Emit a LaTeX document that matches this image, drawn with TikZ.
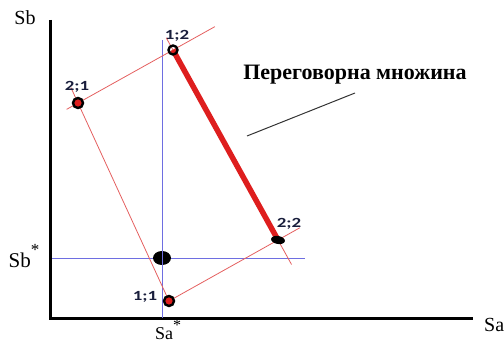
\documentclass[tikz,border=0pt]{standalone}
\usetikzlibrary{shapes.geometric}
\usepackage{fontspec}
\setmainfont{Liberation Serif}
\newfontfamily\lblfont{Carlito}
\definecolor{thinred}{RGB}{228,95,95}
\definecolor{thickred}{RGB}{222,30,30}
\definecolor{axblue}{RGB}{110,110,225}
\definecolor{navy}{RGB}{25,30,60}
\begin{document}
\begin{tikzpicture}[x=1pt,y=-1pt,
  axisline/.style={line width=3pt,black},
  guide/.style={line width=0.9pt,axblue},
  thinline/.style={line width=0.8pt,thinred},
  bargain/.style={line width=5.5pt,thickred},
  ptmark/.style={circle,draw=black,line width=2.4pt,fill=thickred,inner sep=0pt,minimum size=10pt},
  ptlabel/.style={font=\lblfont\bfseries\fontsize{14}{15}\selectfont,text=navy,inner sep=0pt},
  axlabel/.style={font=\fontsize{20}{22}\selectfont,inner sep=0pt}]
\useasboundingbox (0,0) rectangle (504,342);
% axes
\coordinate (O) at (50,318);
\coordinate (ytop) at (50,20);
\coordinate (xend) at (473,318);
\draw[axisline] (ytop) -- (O) -- (xend);
\node[axlabel] (Sb) at (25,18) {Sb};
\node[axlabel,anchor=west] (Sa) at (484,325) {Sa};
\node[axlabel,font=\fontsize{21}{22}\selectfont] (Sbs) at (24,256) {Sb\raisebox{1.2ex}{\fontsize{17}{18}\selectfont*}};
\node[axlabel,font=\fontsize{18}{20}\selectfont,anchor=south] (Sas) at (168,340) {Sa\raisebox{1.1ex}{\fontsize{16}{17}\selectfont*}};
% guide lines
\coordinate (vtop) at (162,40);
\coordinate (vbot) at (162,318);
\coordinate (hl) at (52,258);
\coordinate (hr) at (305,258);
\draw[guide] (vtop) -- (vbot);
\draw[guide] (hl) -- (hr);
% points
\coordinate (p12) at (173,50);
\coordinate (p21) at (78,103);
\coordinate (p22) at (278,240);
\coordinate (p11) at (169,301);
% thin red lines
\draw[thinline,shorten <=-13pt,shorten >=-48pt] (p21) -- (p12);
\draw[thinline,shorten <=-17pt] (p21) -- (p11);
\draw[thinline,shorten >=-25pt] (p11) -- (p22);
\draw[thinline,shorten <=-14pt,shorten >=-28pt] (p12) -- (p22);
% bargaining set
\draw[bargain] (p12) -- (p22);
% markers
\node[ptmark] (m21) at (p21) {};
\node[ptmark] (m11) at (p11) {};
\node[ptmark,fill=none,minimum size=9pt] (m12) at (p12) {};
\node[ellipse,fill=black,minimum width=14pt,minimum height=8pt,inner sep=0pt,rotate=-10] (m22) at (p22) {};
\node[ellipse,fill=black,minimum width=18pt,minimum height=14pt,inner sep=0pt] (c) at (162,258) {};
\draw[guide] (162,251) -- (162,265);
% labels
\node[ptlabel] (l12) at (177,36) {\scalebox{1.35}[1]{1;2}};
\node[ptlabel] (l21) at (77,87) {\scalebox{1.35}[1]{2;1}};
\node[ptlabel] (l22) at (289,224) {\scalebox{1.35}[1]{2;2}};
\node[ptlabel] (l11) at (145,297) {\scalebox{1.35}[1]{1;1}};
% annotation
\node[font=\bfseries\fontsize{22}{24}\selectfont] (ann) at (355,75) {Переговорна множина};
\coordinate (pa) at (247,136);
\coordinate (pb) at (355,93);
\draw[line width=1pt,black!80] (pa) -- (pb);
\end{tikzpicture}
\end{document}
